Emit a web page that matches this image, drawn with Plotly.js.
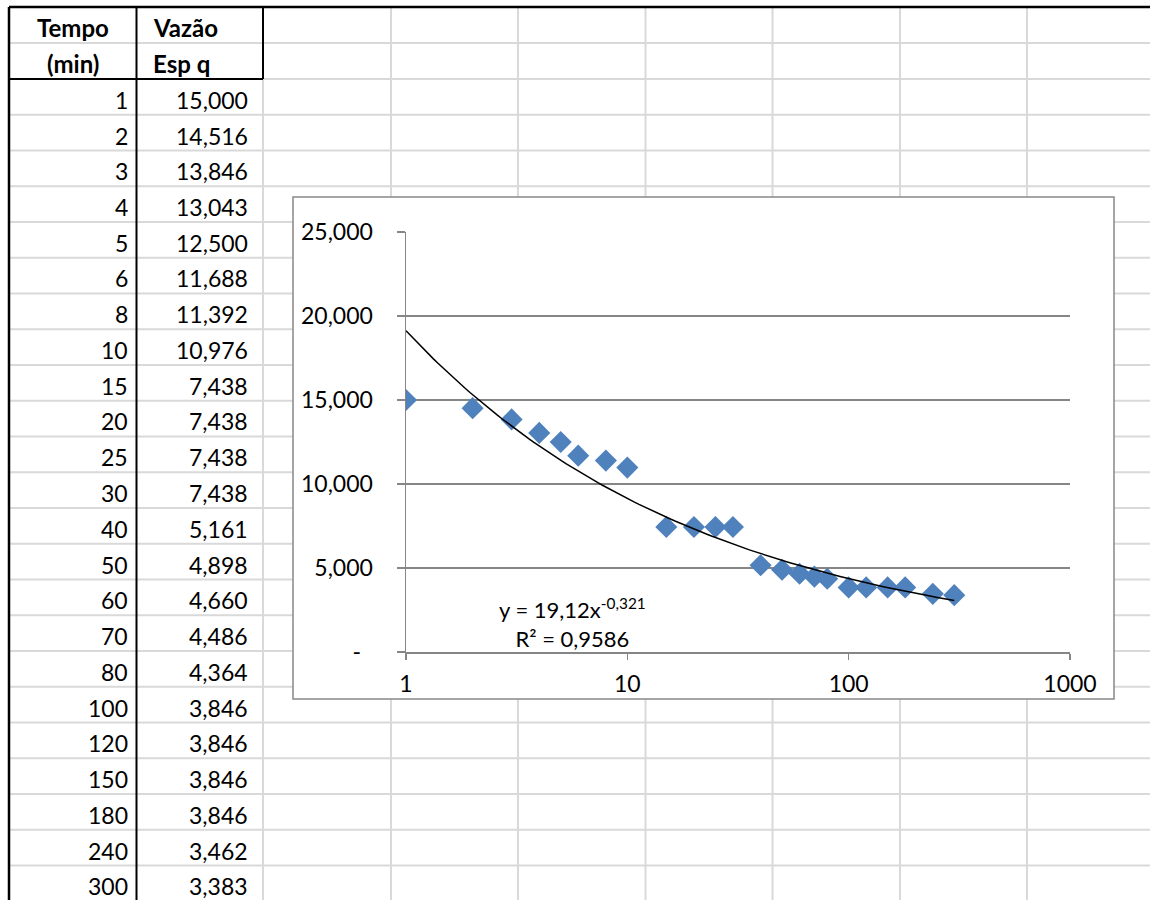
<!DOCTYPE html>
<html>
<head>
<meta charset="utf-8">
<script src="https://cdn.plot.ly/plotly-3.0.1.min.js"></script>
<style>html,body{margin:0;padding:0;background:#fff;}#chart{width:1150px;height:900px;}</style>
</head>
<body>
<div id="chart"></div>
<script>
// ---- data ----
var tempo = [1, 2, 3, 4, 5, 6, 8, 10, 15, 20, 25, 30, 40, 50, 60, 70, 80, 100, 120, 150, 180, 240, 300];
var vazao = [15.000, 14.516, 13.846, 13.043, 12.500, 11.688, 11.392, 10.976, 7.438, 7.438, 7.438, 7.438, 5.161, 4.898, 4.660, 4.486, 4.364, 3.846, 3.846, 3.846, 3.846, 3.462, 3.383];
var headerCol1 = ['Tempo', '(min)'];
var headerCol2 = ['Vazão', 'Esp q'];
var yTickValues = [0, 5, 10, 15, 20, 25];
var xTickValues = [1, 10, 100, 1000];
var equationText = 'y = 19,12x<sup>-0,321</sup><br>R² = 0,9586';

// ---- helpers ----
var W = 1150, H = 900;
function px(x) { return x / W; }
function py(y) { return 1 - y / H; }
function fmt3(v) { return v.toFixed(3).replace('.', ','); }

// power-law trendline fitted from the data (least squares on ln-ln)
var n = tempo.length, sx = 0, sy = 0, sxx = 0, sxy = 0;
for (var i = 0; i < n; i++) {
  var lx = Math.log(tempo[i]), ly = Math.log(vazao[i]);
  sx += lx; sy += ly; sxx += lx * lx; sxy += lx * ly;
}
var b = (n * sxy - sx * sy) / (n * sxx - sx * sx);
var a = Math.exp((sy - b * sx) / n);
var trendX = [], trendY = [];
var lo = Math.log10(Math.min.apply(null, tempo)), hi = Math.log10(Math.max.apply(null, tempo));
for (var k = 0; k <= 120; k++) {
  var xv = Math.pow(10, lo + (hi - lo) * k / 120);
  trendX.push(xv); trendY.push(a * Math.pow(xv, b));
}

// ---- spreadsheet layout geometry ----
var FONT = 'Lato, "Open Sans", sans-serif';
var FS = 23;
var rowTop = 79, rowH = 35.75;
var gridColor = '#d9d9d9';
var shapes = [];
function line(x0, y0, x1, y1, color, w) {
  shapes.push({type: 'line', xref: 'paper', yref: 'paper', x0: px(x0), y0: py(y0), x1: px(x1), y1: py(y1),
    line: {color: color, width: w}, layer: 'below'});
}
// horizontal grid lines
line(9, 43, W, 43, gridColor, 2);
line(263, 79, W, 79, gridColor, 2);
for (var r = 1; r <= tempo.length; r++) {
  var yy = rowTop + rowH * r;
  if (yy < H) line(9, yy, W, yy, gridColor, 2);
}
// vertical grid lines
line(263, 79, 263, H, gridColor, 2);
var colXs = [391, 518, 645.5, 772.5, 900, 1027];
colXs.forEach(function (cx) { line(cx, 7, cx, H, gridColor, 2); });
// chart box
shapes.push({type: 'rect', xref: 'paper', yref: 'paper', x0: px(293), y0: py(699), x1: px(1114), y1: py(197),
  fillcolor: '#ffffff', line: {color: '#888888', width: 1.5}, layer: 'below'});
// table black borders
line(9, 7, W, 7, '#000000', 2.5);
line(9, 7, 9, H, '#000000', 2.5);
line(136.5, 7, 136.5, H, '#000000', 2);
line(263, 7, 263, 79, '#000000', 2);
line(9, 79, 263, 79, '#000000', 2);

// ---- table text ----
var annotations = [];
function txt(x, y, s, xanchor, bold) {
  annotations.push({xref: 'paper', yref: 'paper', x: px(x), y: py(y), text: s, showarrow: false,
    xanchor: xanchor, yanchor: 'middle',
    font: {family: FONT, size: bold ? 24 : FS, color: '#000000', weight: bold ? 700 : 400}});
}
txt(73, 27, headerCol1[0], 'center', true);
txt(73, 63, headerCol1[1], 'center', true);
txt(151, 27, headerCol2[0], 'left', true);
txt(151, 63, headerCol2[1], 'left', true);
for (var j = 0; j < tempo.length; j++) {
  var cy = rowTop + rowH * (j + 1) - 15;
  txt(130, cy, String(tempo[j]), 'right', false);
  txt(250, cy, fmt3(vazao[j]), 'right', false);
}
// trendline equation
annotations.push({xref: 'paper', yref: 'paper', x: px(572), y: py(623), text: equationText, showarrow: false,
  xanchor: 'center', yanchor: 'middle', align: 'center',
  font: {family: FONT, size: 22, color: '#000000'}});

var data = [
  {x: tempo, y: vazao, type: 'scatter', mode: 'markers', name: 'Vazão Esp q',
   marker: {symbol: 'diamond', size: 17, color: '#4F81BD', line: {width: 0}}},
  {x: trendX, y: trendY, type: 'scatter', mode: 'lines', name: 'Potência',
   line: {color: '#000000', width: 1.5}}
];

var layout = {
  width: W, height: H,
  margin: {l: 0, r: 0, t: 0, b: 0, pad: 0},
  paper_bgcolor: '#ffffff', plot_bgcolor: 'rgba(0,0,0,0)',
  showlegend: false, hovermode: false,
  separators: ',.',
  font: {family: FONT, size: FS, color: '#000000'},
  xaxis: {type: 'log', range: [0, 3], domain: [px(406), px(1070)],
    tickvals: xTickValues, ticktext: xTickValues.map(String),
    showgrid: false, zeroline: false, showline: true, linecolor: '#868686', linewidth: 1.5,
    ticks: 'outside', ticklen: 6, tickwidth: 1.5, tickcolor: '#868686',
    ticklabelstandoff: 5,
    tickfont: {family: FONT, size: FS, color: '#000000'}},
  yaxis: {range: [0, 25], domain: [py(652), py(232)],
    tickvals: yTickValues, ticktext: yTickValues.map(function (v) { return v === 0 ? '-\u00a0\u00a0' : fmt3(v); }),
    showgrid: true, gridcolor: '#868686', gridwidth: 1.5,
    zeroline: false, showline: true, linecolor: '#868686', linewidth: 1.5,
    ticks: 'outside', ticklen: 8, tickwidth: 1.5, tickcolor: '#868686',
    ticklabelstandoff: 19,
    tickfont: {family: FONT, size: FS, color: '#000000'}},
  shapes: shapes,
  annotations: annotations
};

Plotly.newPlot('chart', data, layout, {displayModeBar: false, staticPlot: true});
</script>
</body>
</html>
